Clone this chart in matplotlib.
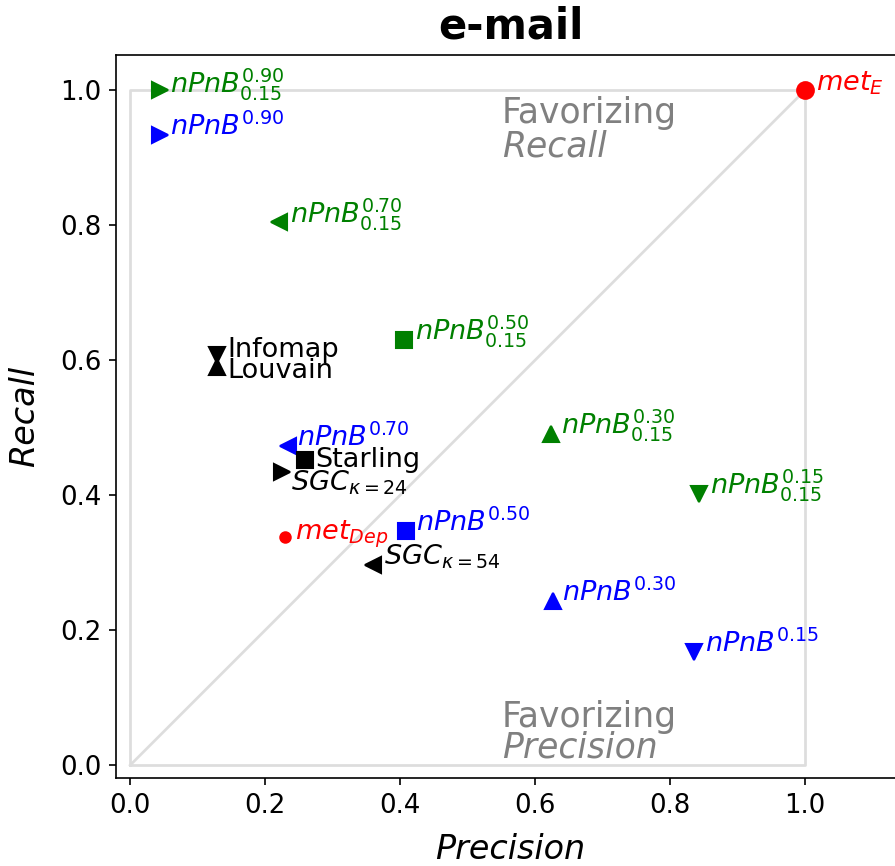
import matplotlib
matplotlib.use("Agg")
import matplotlib.pyplot as plt

# ---- data ----
labels = [r"$nPnB^{0.90}_{0.15}$", r"$nPnB^{0.90}$", r"$nPnB^{0.70}_{0.15}$",
          r"$nPnB^{0.50}_{0.15}$", "Infomap", "Louvain", r"$nPnB^{0.70}$",
          "Starling", r"$SGC_{\kappa=24}$", r"$met_{Dep}$", r"$nPnB^{0.50}$",
          r"$SGC_{\kappa=54}$", r"$nPnB^{0.30}_{0.15}$", r"$nPnB^{0.15}_{0.15}$",
          r"$nPnB^{0.30}$", r"$nPnB^{0.15}$", r"$met_E$"]
precision = [0.044, 0.044, 0.221, 0.406, 0.129, 0.129, 0.234, 0.259, 0.225,
             0.230, 0.409, 0.360, 0.623, 0.843, 0.626, 0.836, 1.0]
recall = [1.0, 0.933, 0.804, 0.630, 0.607, 0.590, 0.473, 0.452, 0.434,
          0.338, 0.347, 0.297, 0.491, 0.402, 0.243, 0.168, 1.0]
markers = [">", ">", "<", "s", "v", "^", "<", "s", ">", "o", "s", "<",
           "^", "v", "^", "v", "o"]
colors = ["green", "blue", "green", "green", "black", "black", "blue",
          "black", "black", "red", "blue", "black", "green", "green",
          "blue", "blue", "red"]

# ---- layout (label offsets in points) ----
offsets = [(5, -1), (5, 0), (5, 0), (5, 0), (5, -1), (5, -5.5), (4.5, 0),
           (5, -3.5), (4.5, -9), (4.5, -1), (4.5, 0), (5, 0), (5, 0), (5, 0),
           (4.5, 0), (5, 0), (5, 0)]
msizes = [8] * len(labels)
msizes[9] = 5

fig = plt.figure(figsize=(895 / 150, 866 / 150), dpi=150)
ax = fig.add_axes([116 / 895, 88 / 866, 789 / 895, 723 / 866])

lc = "#dddddd"
ax.plot([0, 1, 1, 0, 0], [0, 0, 1, 1, 0], color=lc, lw=1.3, zorder=1)
ax.plot([0, 1], [0, 1], color=lc, lw=1.3, zorder=1)

for lab, x, y, m, c, off, ms in zip(labels, precision, recall, markers,
                                    colors, offsets, msizes):
    ax.plot([x], [y], marker=m, color=c, markersize=ms, linestyle="none",
            zorder=3)
    ax.annotate(lab, (x, y), xytext=off, textcoords="offset points",
                ha="left", va="baseline", color=c, fontsize=13, zorder=4)

fs_fav = 16.6
ax.text(0.551, 0.951, "Favorizing", color="gray", fontsize=fs_fav,
        ha="left", va="baseline")
ax.text(0.551, 0.901, "Recall", color="gray", fontsize=fs_fav, style="italic",
        ha="left", va="baseline")
ax.text(0.551, 0.057, "Favorizing", color="gray", fontsize=fs_fav,
        ha="left", va="baseline")
ax.text(0.551, 0.012, "Precision", color="gray", fontsize=fs_fav,
        style="italic", ha="left", va="baseline")

ax.set_xlim(-0.021, 1.148)
ax.set_ylim(-0.019, 1.052)
ax.set_xticks([0.0, 0.2, 0.4, 0.6, 0.8, 1.0])
ax.set_yticks([0.0, 0.2, 0.4, 0.6, 0.8, 1.0])
ax.tick_params(labelsize=12.5)
ax.set_xlabel("Precision", fontsize=16, style="italic", labelpad=7)
ax.set_ylabel("Recall", fontsize=16, style="italic", labelpad=9)
ax.set_title("e-mail", fontsize=20, fontweight="bold", pad=8)

fig.savefig("out.png", dpi=150)
